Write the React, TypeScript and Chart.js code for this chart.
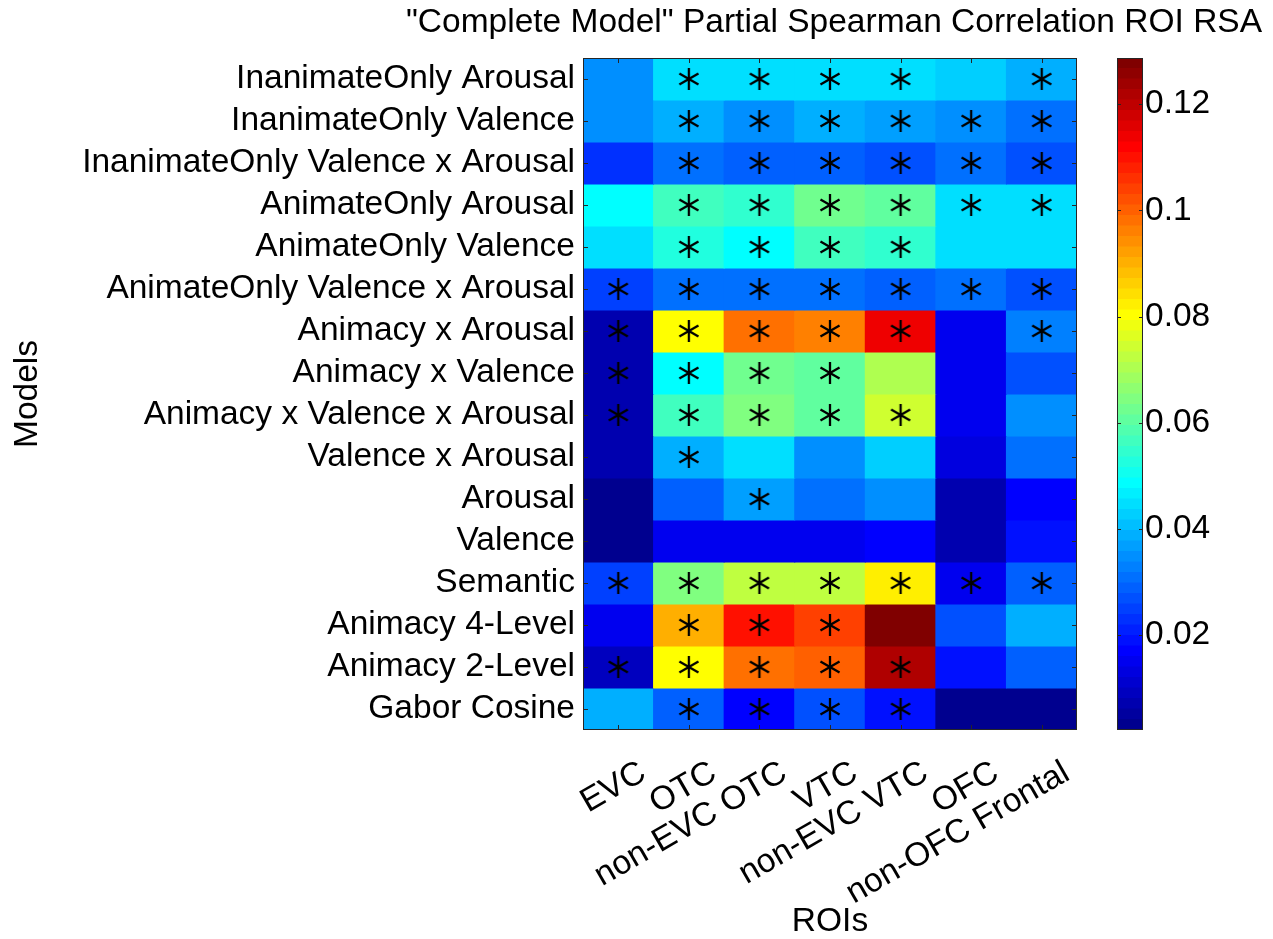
import { useEffect, useRef } from "react";
import { Chart, registerables } from "chart.js";

Chart.register(...registerables);

const FONT = "'Liberation Sans', Arial, Helvetica, sans-serif";
const TEXT_SIZE = 33.5;

const TITLE = '"Complete Model" Partial Spearman Correlation ROI RSA';

// Regions of interest (columns)
const rois = ["EVC", "OTC", "non-EVC OTC", "VTC", "non-EVC VTC", "OFC", "non-OFC Frontal"];

// Model RDMs (rows, top to bottom)
const models = [
  "InanimateOnly Arousal",
  "InanimateOnly Valence",
  "InanimateOnly Valence x Arousal",
  "AnimateOnly Arousal",
  "AnimateOnly Valence",
  "AnimateOnly Valence x Arousal",
  "Animacy x Arousal",
  "Animacy x Valence",
  "Animacy x Valence x Arousal",
  "Valence x Arousal",
  "Arousal",
  "Valence",
  "Semantic",
  "Animacy 4-Level",
  "Animacy 2-Level",
  "Gabor Cosine",
];

// Partial Spearman correlation, one row per model, columns follow `rois`
const partialRho: number[][] = [
  [0.0340, 0.0444, 0.0444, 0.0444, 0.0444, 0.0425, 0.0384],
  [0.0345, 0.0380, 0.0355, 0.0380, 0.0365, 0.0350, 0.0315],
  [0.0230, 0.0302, 0.0280, 0.0295, 0.0278, 0.0315, 0.0270],
  [0.0476, 0.0565, 0.0543, 0.0619, 0.0595, 0.0452, 0.0445],
  [0.0445, 0.0527, 0.0495, 0.0570, 0.0540, 0.0445, 0.0445],
  [0.0253, 0.0302, 0.0302, 0.0302, 0.0295, 0.0302, 0.0270],
  [0.0070, 0.0812, 0.0986, 0.0954, 0.1148, 0.0149, 0.0335],
  [0.0070, 0.0495, 0.0619, 0.0595, 0.0705, 0.0145, 0.0270],
  [0.0070, 0.0565, 0.0644, 0.0607, 0.0743, 0.0149, 0.0350],
  [0.0069, 0.0384, 0.0445, 0.0355, 0.0420, 0.0129, 0.0302],
  [0.0030, 0.0295, 0.0365, 0.0315, 0.0345, 0.0070, 0.0170],
  [0.0030, 0.0149, 0.0155, 0.0155, 0.0160, 0.0070, 0.0180],
  [0.0250, 0.0644, 0.0717, 0.0720, 0.0830, 0.0149, 0.0290],
  [0.0145, 0.0910, 0.1097, 0.1048, 0.1287, 0.0278, 0.0384],
  [0.0090, 0.0812, 0.0986, 0.1008, 0.1224, 0.0190, 0.0295],
  [0.0380, 0.0290, 0.0175, 0.0278, 0.0195, 0.0021, 0.0030],
];

// 1 = significant (marked with an asterisk)
const significant: number[][] = [
  [0, 1, 1, 1, 1, 0, 1],
  [0, 1, 1, 1, 1, 1, 1],
  [0, 1, 1, 1, 1, 1, 1],
  [0, 1, 1, 1, 1, 1, 1],
  [0, 1, 1, 1, 1, 0, 0],
  [1, 1, 1, 1, 1, 1, 1],
  [1, 1, 1, 1, 1, 0, 1],
  [1, 1, 1, 1, 0, 0, 0],
  [1, 1, 1, 1, 1, 0, 0],
  [0, 1, 0, 0, 0, 0, 0],
  [0, 0, 1, 0, 0, 0, 0],
  [0, 0, 0, 0, 0, 0, 0],
  [1, 1, 1, 1, 1, 1, 1],
  [0, 1, 1, 1, 0, 0, 0],
  [1, 1, 1, 1, 1, 0, 0],
  [0, 1, 1, 1, 1, 0, 0],
];

// Colour bar tick values
const colorbarTicks = [0.02, 0.04, 0.06, 0.08, 0.1, 0.12];

const allValues = partialRho.flat();
const cMin = Math.min(...allValues);
const cMax = Math.max(...allValues);

// MATLAB-style 64-level jet colormap
const JET_LEVELS = 64;
function jetLevel(k: number): string {
  const u = (i: number) => (i < 1 || i > 47 ? 0 : i <= 16 ? i / 16 : i <= 31 ? 1 : (48 - i) / 16);
  const r = u(k - 24);
  const g = u(k - 8);
  const b = u(k + 8);
  return `rgb(${Math.round(r * 255)},${Math.round(g * 255)},${Math.round(b * 255)})`;
}
function colorFor(v: number): string {
  let k = Math.floor(((v - cMin) / (cMax - cMin)) * JET_LEVELS) + 1;
  k = Math.max(1, Math.min(JET_LEVELS, k));
  return jetLevel(k);
}

function makeAsterisk(): HTMLCanvasElement {
  const c = document.createElement("canvas");
  c.width = 26;
  c.height = 26;
  const ctx = c.getContext("2d")!;
  ctx.strokeStyle = "#000";
  ctx.lineWidth = 2.3;
  ctx.translate(13, 13);
  for (const deg of [90, 30, -30]) {
    const a = (deg * Math.PI) / 180;
    const dx = 11 * Math.cos(a);
    const dy = 11 * Math.sin(a);
    ctx.beginPath();
    ctx.moveTo(-dx, -dy);
    ctx.lineTo(dx, dy);
    ctx.stroke();
  }
  return c;
}

const AXIS_COLOR = "#262626";

// Axes box with small inward ticks on every side
const boxPlugin = {
  id: "axesBox",
  afterDatasetsDraw(chart: any) {
    const { ctx, chartArea: a, scales } = chart;
    ctx.save();
    ctx.strokeStyle = AXIS_COLOR;
    ctx.lineWidth = 1;
    ctx.strokeRect(a.left + 0.5, a.top + 0.5, a.right - a.left - 1, a.bottom - a.top - 1);
    const t = 5;
    ctx.beginPath();
    rois.forEach((_, i) => {
      const x = Math.round(scales.x.getPixelForValue(i)) + 0.5;
      ctx.moveTo(x, a.top);
      ctx.lineTo(x, a.top + t);
      ctx.moveTo(x, a.bottom);
      ctx.lineTo(x, a.bottom - t);
    });
    models.forEach((_, i) => {
      const y = Math.round(scales.y.getPixelForValue(i + 0.5)) + 0.5;
      ctx.moveTo(a.left, y);
      ctx.lineTo(a.left + t, y);
      ctx.moveTo(a.right, y);
      ctx.lineTo(a.right - t, y);
    });
    ctx.stroke();
    ctx.restore();
  },
};

// Title centred over the axes
const titlePlugin = {
  id: "axesTitle",
  afterDraw(chart: any) {
    const { ctx, chartArea: a } = chart;
    ctx.save();
    ctx.font = `${TEXT_SIZE}px ${FONT}`;
    ctx.fillStyle = "#000";
    ctx.textAlign = "center";
    ctx.textBaseline = "middle";
    ctx.fillText(TITLE, (a.left + a.right) / 2 + 4, 23);
    ctx.restore();
  },
};

const colorbarFramePlugin = {
  id: "colorbarFrame",
  afterDatasetsDraw(chart: any) {
    const { ctx, chartArea: a, scales } = chart;
    ctx.save();
    ctx.strokeStyle = AXIS_COLOR;
    ctx.lineWidth = 1;
    ctx.strokeRect(a.left + 0.5, a.top + 0.5, a.right - a.left - 1, a.bottom - a.top - 1);
    ctx.beginPath();
    colorbarTicks.forEach((v) => {
      const y = Math.round(scales.y.getPixelForValue(v)) + 0.5;
      ctx.moveTo(a.left, y);
      ctx.lineTo(a.left + 4, y);
      ctx.moveTo(a.right, y);
      ctx.lineTo(a.right - 4, y);
    });
    ctx.stroke();
    ctx.restore();
  },
};

export default function App() {
  const mainRef = useRef<HTMLCanvasElement>(null);
  const barRef = useRef<HTMLCanvasElement>(null);

  useEffect(() => {
    const font = { family: FONT, size: TEXT_SIZE };
    const asterisk = makeAsterisk();

    const cellDatasets = models.map((name, r) => ({
      type: "bar" as const,
      label: name,
      data: rois.map(() => [r, r + 1]),
      backgroundColor: partialRho[r].map(colorFor),
      borderWidth: 0,
      inflateAmount: 0.5,
      grouped: false,
      barPercentage: 1,
      categoryPercentage: 1,
      order: 2,
    }));

    const starPoints: { x: string; y: number }[] = [];
    significant.forEach((row, r) =>
      row.forEach((s, c) => {
        if (s) starPoints.push({ x: rois[c], y: r + 0.5 });
      })
    );

    const main = new Chart(mainRef.current!, {
      type: "bar",
      data: {
        labels: rois,
        datasets: [
          ...cellDatasets,
          {
            type: "scatter" as const,
            label: "significant",
            data: starPoints as any,
            pointStyle: asterisk as any,
            pointRadius: 12,
            pointHoverRadius: 12,
            order: 0,
          } as any,
        ],
      },
      options: {
        responsive: false,
        animation: false,
        events: [],
        layout: { padding: { top: 58, right: 196, left: 0, bottom: 0 } },
        plugins: {
          legend: { display: false },
          tooltip: { enabled: false },
          title: { display: false },
        },
        scales: {
          x: {
            type: "category",
            offset: true,
            grid: { display: false, drawTicks: false },
            border: { display: false },
            ticks: {
              autoSkip: false,
              minRotation: 30,
              maxRotation: 30,
              labelOffset: 25,
              padding: 23,
              color: "#000",
              font,
            },
            title: {
              display: true,
              text: "ROIs",
              color: "#000",
              font: { family: FONT, size: TEXT_SIZE, lineHeight: 1 },
              padding: { top: 0, bottom: 0 },
            },
            afterFit: (scale: any) => {
              scale.height = 209;
            },
          },
          y: {
            type: "linear",
            reverse: true,
            min: 0,
            max: models.length,
            grid: { display: false, drawTicks: false },
            border: { display: false },
            afterBuildTicks: (scale: any) => {
              scale.ticks = models.map((_, i) => ({ value: i + 0.5 }));
            },
            ticks: {
              autoSkip: false,
              padding: 8,
              color: "#000",
              font,
              callback: (v: any) => models[Math.floor(Number(v))],
            },
            title: {
              display: true,
              text: "Models",
              color: "#000",
              font,
              padding: { top: 8, bottom: 0 },
            },
            afterFit: (scale: any) => {
              scale.width = 583;
            },
          },
        },
      },
      plugins: [boxPlugin, titlePlugin],
    });

    const step = (cMax - cMin) / JET_LEVELS;
    const bandDatasets = Array.from({ length: JET_LEVELS }, (_, k) => ({
      label: `level ${k + 1}`,
      data: [[cMin + k * step, cMin + (k + 1) * step]],
      backgroundColor: jetLevel(k + 1),
      borderWidth: 0,
      inflateAmount: 0.5,
      grouped: false,
      barPercentage: 1,
      categoryPercentage: 1,
    }));

    const colorbar = new Chart(barRef.current!, {
      type: "bar",
      data: { labels: [""], datasets: bandDatasets as any },
      options: {
        responsive: false,
        animation: false,
        events: [],
        layout: { padding: { top: 58, bottom: 209, left: 17, right: 0 } },
        plugins: { legend: { display: false }, tooltip: { enabled: false } },
        scales: {
          x: { display: false },
          y: {
            position: "right",
            min: cMin,
            max: cMax,
            grid: { display: false, drawTicks: false },
            border: { display: false },
            afterBuildTicks: (scale: any) => {
              scale.ticks = colorbarTicks.map((v) => ({ value: v }));
            },
            ticks: {
              padding: 2,
              color: "#000",
              font,
              callback: (v: any) => String(Number(Number(v).toFixed(2))),
            },
            afterFit: (scale: any) => {
              scale.width = 130;
            },
          },
        },
      },
      plugins: [colorbarFramePlugin],
    });

    return () => {
      main.destroy();
      colorbar.destroy();
    };
  }, []);

  return (
    <div style={{ position: "absolute", left: 0, top: 0, width: 1273, height: 939, background: "#fff" }}>
      <canvas ref={mainRef} width={1273} height={939} style={{ position: "absolute", left: 0, top: 0 }} />
      <canvas ref={barRef} width={173} height={939} style={{ position: "absolute", left: 1100, top: 0 }} />
    </div>
  );
}
